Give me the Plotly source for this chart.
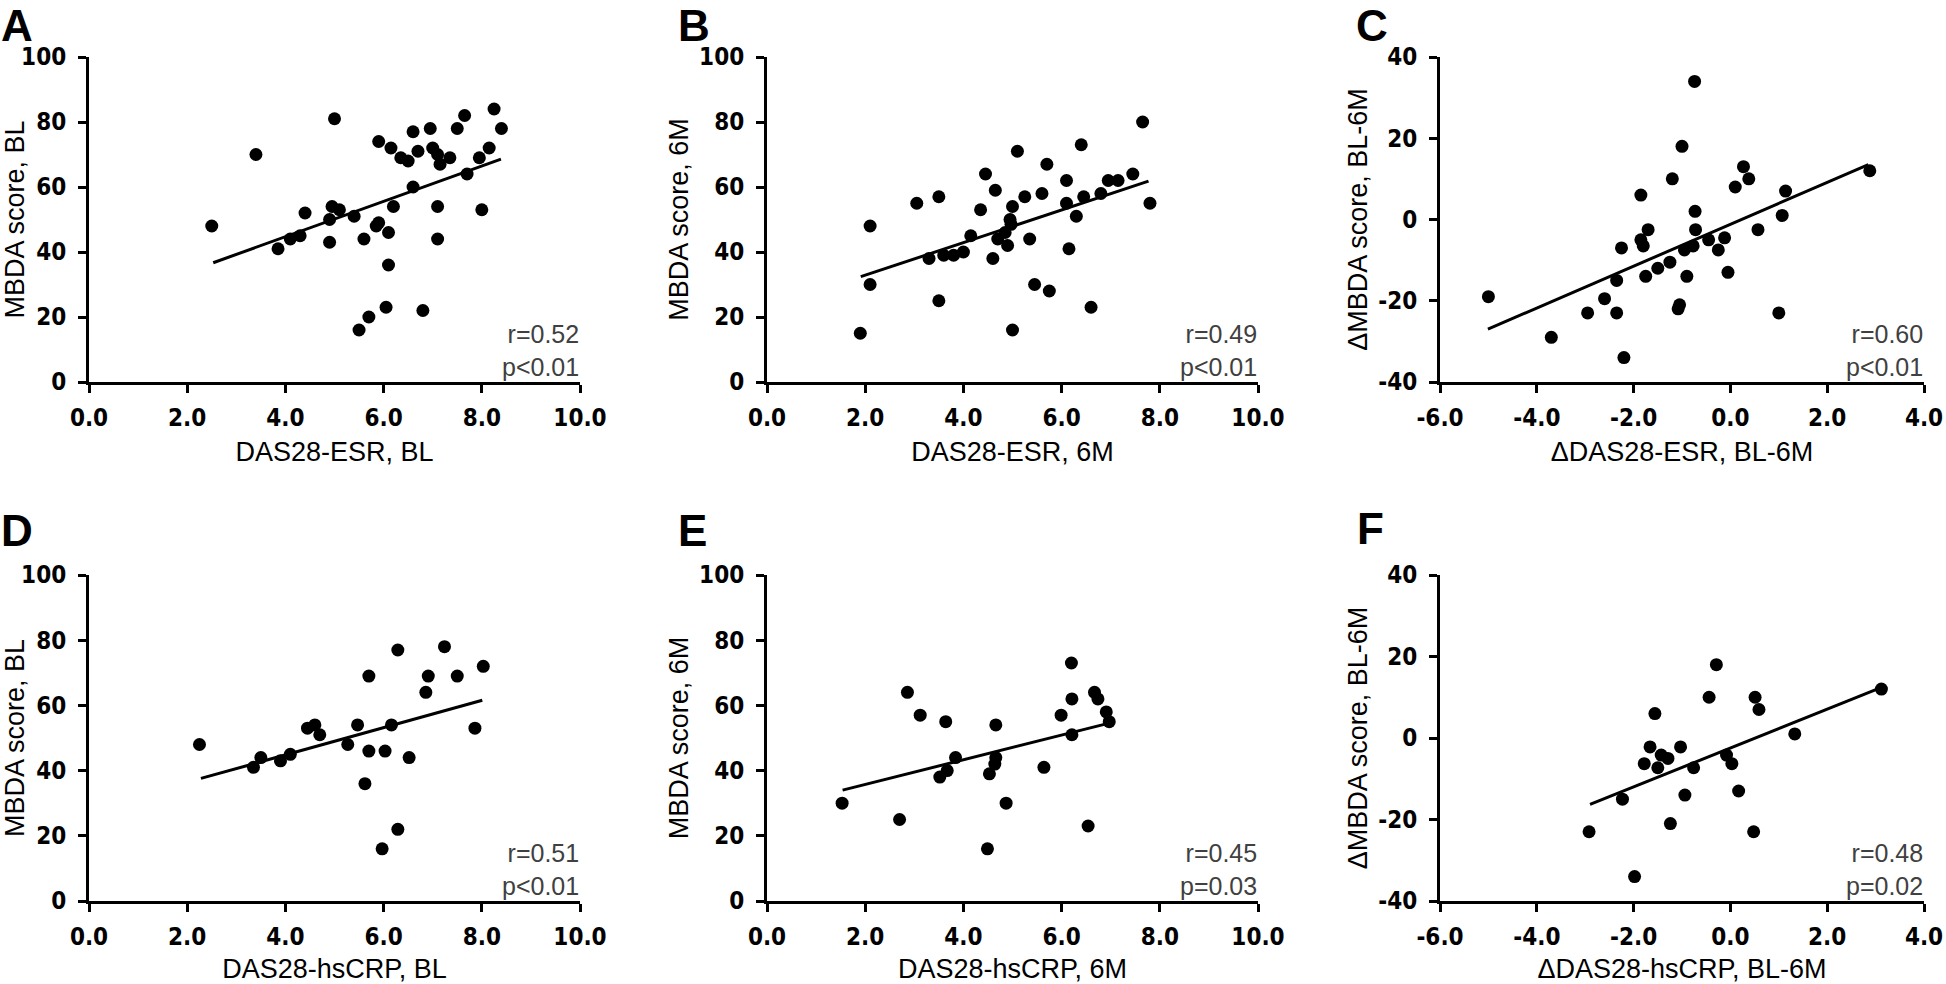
import plotly.graph_objects as go

# ---------------- data ----------------
panel_letters = ["A", "B", "C", "D", "E", "F"]

x_titles = ["DAS28-ESR, BL", "DAS28-ESR, 6M", "ΔDAS28-ESR, BL-6M",
            "DAS28-hsCRP, BL", "DAS28-hsCRP, 6M", "ΔDAS28-hsCRP, BL-6M"]
y_titles = ["MBDA score, BL", "MBDA score, 6M", "ΔMBDA score, BL-6M",
            "MBDA score, BL", "MBDA score, 6M", "ΔMBDA score, BL-6M"]

r_texts = ["r=0.52", "r=0.49", "r=0.60", "r=0.51", "r=0.45", "r=0.48"]
p_texts = ["p<0.01", "p<0.01", "p<0.01", "p<0.01", "p=0.03", "p=0.02"]

abs_x_ticks = [0, 2, 4, 6, 8, 10]
abs_x_labels = ["0.0", "2.0", "4.0", "6.0", "8.0", "10.0"]
abs_y_ticks = [0, 20, 40, 60, 80, 100]
abs_y_labels = ["0", "20", "40", "60", "80", "100"]
delta_x_ticks = [-6, -4, -2, 0, 2, 4]
delta_x_labels = ["-6.0", "-4.0", "-2.0", "0.0", "2.0", "4.0"]
delta_y_ticks = [-40, -20, 0, 20, 40]
delta_y_labels = ["-40", "-20", "0", "20", "40"]

A_x = [2.5, 3.4, 3.85, 4.1, 4.3, 4.4, 4.9, 4.9, 4.95, 5.0, 5.1, 5.4, 5.5, 5.6, 5.7,
       5.85, 5.9, 5.9, 6.05, 6.1, 6.1, 6.15, 6.2, 6.35, 6.5, 6.6, 6.6, 6.7, 6.8, 6.95,
       7.0, 7.1, 7.1, 7.15, 7.1, 7.35, 7.5, 7.65, 7.7, 7.95, 8.0, 8.15, 8.25, 8.4]
A_y = [48, 70, 41, 44, 45, 52, 50, 43, 54, 81, 53, 51, 16, 44, 20,
       48, 49, 74, 23, 36, 46, 72, 54, 69, 68, 77, 60, 71, 22, 78,
       72, 54, 70, 67, 44, 69, 78, 82, 64, 69, 53, 72, 84, 78]
A_fit_x = [2.53, 8.39]
A_fit_y = [36.7, 68.6]

B_x = [1.9, 2.1, 2.1, 3.05, 3.3, 3.5, 3.5, 3.6, 3.8, 4.0, 4.15, 4.35, 4.45, 4.6, 4.65,
       4.7, 4.85, 4.9, 4.95, 4.97, 5.0, 5.0, 5.1, 5.25, 5.35, 5.45, 5.6, 5.7, 5.75, 6.1,
       6.1, 6.15, 6.3, 6.4, 6.45, 6.6, 6.8, 6.95, 7.15, 7.45, 7.65, 7.8]
B_y = [15, 30, 48, 55, 38, 25, 57, 39, 39, 40, 45, 53, 64, 38, 59,
       44, 46, 42, 50, 48.5, 16, 54, 71, 57, 44, 30, 58, 67, 28, 62,
       55, 41, 51, 73, 57, 23, 58, 62, 62, 64, 80, 55]
B_fit_x = [1.91, 7.77]
B_fit_y = [32.4, 61.8]

C_x = [-5.0, -3.7, -2.95, -2.6, -2.35, -2.35, -2.25, -2.2, -1.85, -1.85, -1.8, -1.75,
       -1.7, -1.5, -1.25, -1.2, -1.08, -1.05, -1.0, -0.95, -0.9, -0.77, -0.74, -0.73,
       -0.72, -0.45, -0.25, -0.12, -0.05, 0.1, 0.27, 0.38, 0.57, 1.0, 1.07, 1.14, 2.88]
C_y = [-19, -29, -23, -19.5, -23, -15, -7, -34, 6, -5, -6.5, -14,
       -2.5, -12, -10.5, 10, -22, -21, 18, -7.5, -14, -6.5, 34, 2,
       -2.5, -5, -7.5, -4.5, -13, 8, 13, 10, -2.5, -23, 1, 7, 12]
C_fit_x = [-5.01, 2.85]
C_fit_y = [-27.0, 13.5]

D_x = [2.25, 3.35, 3.5, 3.9, 4.1, 4.45, 4.6, 4.7, 5.27, 5.47, 5.62, 5.7, 5.7,
       5.97, 6.03, 6.16, 6.29, 6.29, 6.52, 6.86, 6.91, 7.24, 7.5, 7.86, 8.03]
D_y = [48, 41, 44, 43, 45, 53, 54, 51, 48, 54, 36, 46, 69,
       16, 46, 54, 77, 22, 44, 64, 69, 78, 69, 53, 72]
D_fit_x = [2.28, 8.01]
D_fit_y = [37.6, 61.6]

E_x = [1.53, 2.7, 2.86, 3.12, 3.52, 3.64, 3.67, 3.84, 4.49, 4.53, 4.64, 4.66,
       4.66, 4.87, 5.64, 5.99, 6.2, 6.21, 6.21, 6.54, 6.67, 6.74, 6.91, 6.97]
E_y = [30, 25, 64, 57, 38, 55, 40, 44, 16, 39, 42, 44,
       54, 30, 41, 57, 73, 62, 51, 23, 64, 62, 58, 55]
E_fit_x = [1.54, 6.95]
E_fit_y = [34.0, 54.5]

F_x = [-2.92, -2.23, -1.98, -1.78, -1.66, -1.56, -1.5, -1.43, -1.29, -1.24, -1.03,
       -0.94, -0.76, -0.44, -0.29, -0.08, 0.03, 0.17, 0.48, 0.51, 0.59, 1.33, 3.12]
F_y = [-23, -15, -34, -6.3, -2.2, 6, -7.3, -4.2, -5, -21, -2.2,
       -14, -7.3, 10, 18, -4.2, -6.3, -13, -23, 10, 7, 1, 12]
F_fit_x = [-2.90, 3.07]
F_fit_y = [-16.3, 12.2]

# ---------------- layout geometry ----------------
W, H = 1946, 984
col_px = [(89, 580), (767, 1258), (1440, 1924)]     # page pixel positions of axes
row_px = [(57, 382), (575, 901)]
# (left x, y, anchor) of the panel letters
letter_px = [(0, 0, "top"), (677, 0, "top"), (1355, 0, "top"),
             (0, 530, "middle"), (677, 530, "middle"), (1356, 528, "middle")]

panels = [
    (A_x, A_y, A_fit_x, A_fit_y, False),
    (B_x, B_y, B_fit_x, B_fit_y, False),
    (C_x, C_y, C_fit_x, C_fit_y, True),
    (D_x, D_y, D_fit_x, D_fit_y, False),
    (E_x, E_y, E_fit_x, E_fit_y, False),
    (F_x, F_y, F_fit_x, F_fit_y, True),
]

TICK_FONT = dict(family="Liberation Sans Narrow, DejaVu Sans Condensed, Arial Narrow, sans-serif",
                 size=24, color="black", weight="bold")
TITLE_FONT = dict(family="Liberation Sans, Arial, sans-serif", size=27, color="black")
STAT_FONT = dict(family="Liberation Sans Narrow, Arial Narrow, Liberation Sans, sans-serif",
                 size=25, color="#404040")
LETTER_FONT = dict(family="Liberation Sans, Arial, sans-serif", size=44, color="black", weight="bold")


def px_x(p):
    return p / W


def px_y(p):
    return 1 - p / H


fig = go.Figure()
layout = dict(width=W, height=H, margin=dict(l=0, r=0, t=0, b=0, autoexpand=False),
              paper_bgcolor="white", plot_bgcolor="white", showlegend=False)
annotations = []

for i, (px, py, fx, fy, delta) in enumerate(panels):
    r, c = divmod(i, 3)
    n = i + 1
    xa = "x" if n == 1 else f"x{n}"
    ya = "y" if n == 1 else f"y{n}"
    x0, x1 = col_px[c]
    y0, y1 = row_px[r]
    xdom = [px_x(x0), px_x(x1)]
    ydom = [px_y(y1), px_y(y0)]

    fig.add_trace(go.Scatter(x=px, y=py, mode="markers", xaxis=xa, yaxis=ya,
                             marker=dict(size=13, color="black"), cliponaxis=False))
    fig.add_trace(go.Scatter(x=fx, y=fy, mode="lines", xaxis=xa, yaxis=ya,
                             line=dict(color="black", width=3)))

    if delta:
        xr, xt, xl = [-6, 4], delta_x_ticks, delta_x_labels
        yr, yt, yl = [-40, 40], delta_y_ticks, delta_y_labels
    else:
        xr, xt, xl = [0, 10], abs_x_ticks, abs_x_labels
        yr, yt, yl = [0, 100], abs_y_ticks, abs_y_labels

    common = dict(showline=True, linecolor="black", linewidth=3, mirror=False,
                  ticks="outside", ticklen=8, tickwidth=3, tickcolor="black",
                  showgrid=False, zeroline=False, tickfont=TICK_FONT, fixedrange=True,
                  automargin=False)
    layout["xaxis" if n == 1 else f"xaxis{n}"] = dict(
        domain=xdom, range=xr, tickmode="array", tickvals=xt, ticktext=xl,
        ticklabeloverflow="allow", ticklabelstandoff=4,
        anchor=ya, title=dict(text=x_titles[i], font=TITLE_FONT, standoff=12), **common)
    layout["yaxis" if n == 1 else f"yaxis{n}"] = dict(
        domain=ydom, range=yr, tickmode="array", tickvals=yt, ticktext=yl,
        ticklabelstandoff=7,
        anchor=xa, title=dict(text=y_titles[i], font=TITLE_FONT, standoff=3), **common)

    stat = r_texts[i] + "<br>" + p_texts[i].replace("<", "&lt;")
    annotations.append(dict(text=stat, xref=f"{xa} domain", yref=f"{ya} domain",
                            x=1.0, y=0.0, xanchor="right", yanchor="bottom",
                            align="right", showarrow=False, font=STAT_FONT, borderpad=0))

    lx, ly, lanchor = letter_px[i]
    annotations.append(dict(text=panel_letters[i], xref="paper", yref="paper",
                            x=px_x(lx), y=px_y(ly), xanchor="left", yanchor=lanchor,
                            showarrow=False, font=LETTER_FONT, borderpad=0))

layout["annotations"] = annotations
fig.update_layout(**layout)
fig.write_html("out.html", config={"displayModeBar": False},
               post_script="document.body.style.margin='0px';document.body.style.overflow='hidden';")
